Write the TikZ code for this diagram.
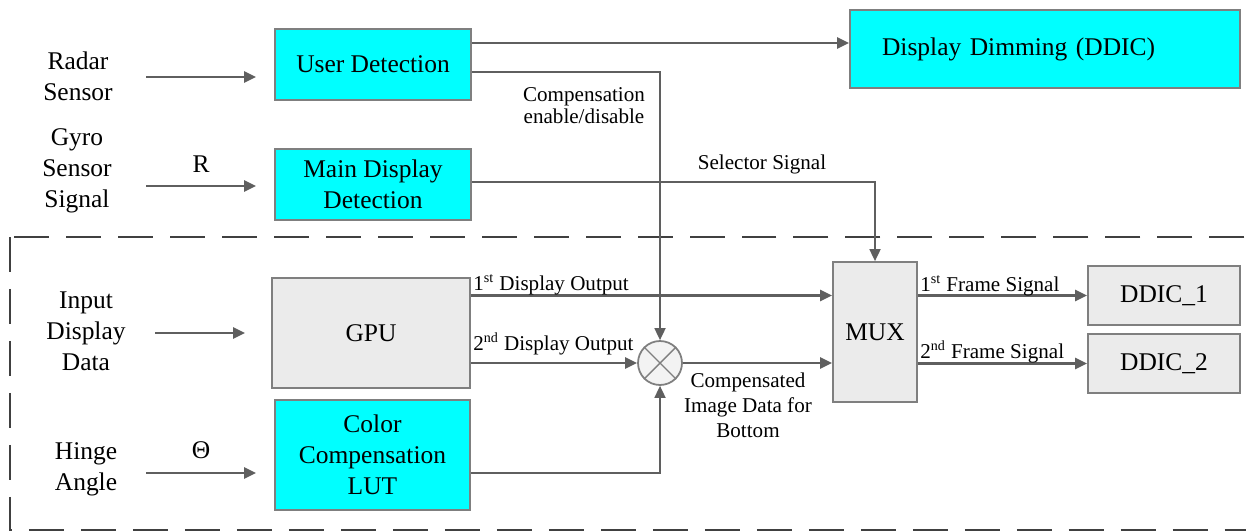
\documentclass[tikz,border=0pt]{standalone}
\usepackage{fontspec}
\setmainfont{Liberation Serif}
\newfontfamily\diagfont{Liberation Serif}
\usepackage{tikz}
\usetikzlibrary{arrows.meta, positioning}
\definecolor{boxcyan}{HTML}{00FFFF}
\definecolor{boxgray}{HTML}{EBEBEB}
\definecolor{edgegray}{HTML}{7F7F7F}
\definecolor{wiregray}{HTML}{5F5F5F}
\tikzset{
		cyan block/.style={draw=edgegray, line width=1pt, fill=boxcyan, align=center, inner sep=0pt,
			font=\diagfont\fontsize{14.5}{17.6}\selectfont},
		gray block/.style={cyan block, fill=boxgray},
		in label/.style={align=center, inner sep=0pt, font=\diagfont\fontsize{14.5}{17.6}\selectfont},
		sig label/.style={align=center, inner sep=0pt, font=\diagfont\fontsize{12}{12.6}\selectfont},
		wire/.style={draw=wiregray, line width=1.5pt},
		thin wire/.style={draw=wiregray, line width=1pt}
	}

\begin{document}
\begin{tikzpicture}[x=0.02cm, y=-0.02cm, >={Triangle[length=0.24cm,width=0.22cm]}]
				\useasboundingbox (0,0) rectangle (1246,531);
				% dashed frame of the lower part
				\draw[dash pattern=on 0.7cm off 0.34cm, line width=1.1pt, draw=black!75] (10,237) rectangle (1270,530);

				% blocks
				\node[cyan block, minimum width=3.92cm, minimum height=1.42cm] (ud)  at (373,64.5)  {User Detection};
				\node[cyan block, minimum width=3.92cm, minimum height=1.42cm] (mdd) at (373,184.5) {Main Display\\Detection};
				\node[cyan block, minimum height=1.56cm, text width=6.52cm, inner xsep=0.64cm, align=left] (dd) at (1045,49) {Display Dimming (DDIC)};
				\node[gray block, minimum width=3.96cm, minimum height=2.2cm] (gpu) at (371,333) {GPU};
				\node[cyan block, minimum width=3.9cm, minimum height=2.2cm]  (lut) at (372.5,455) {Color\\Compensation\\LUT};
				\node[gray block, minimum width=1.68cm, minimum height=2.8cm] (mux) at (875,332) {MUX};
				\node[gray block, minimum width=3.04cm, minimum height=1.18cm] (dd1) at (1164,295.5) {DDIC\_1};
				\node[gray block, minimum width=3.04cm, minimum height=1.18cm] (dd2) at (1164,363.5) {DDIC\_2};
				\node[circle, draw=edgegray, line width=1pt, fill=boxgray!60, minimum size=0.88cm, inner sep=0pt] (mul) at (660,363) {};
				\draw[edgegray, line width=0.8pt] (mul.north east) -- (mul.south west) (mul.north west) -- (mul.south east);

				% inputs
				\node[in label] (radar) at (78,76)  {Radar\\Sensor};
				\node[in label] (gyro)  at (77,171) {Gyro\\Sensor\\Signal};
				\node[in label] (idd)   at (86,331) {Input\\Display\\Data};
				\node[in label] (hinge) at (86,469) {Hinge\\Angle};
				\coordinate (radar a) at (146,77);  \coordinate (radar b) at (256,77);
				\coordinate (gyro a)  at (146,186); \coordinate (gyro b)  at (256,186);
				\coordinate (idd a)   at (155,333); \coordinate (idd b)   at (245,333);
				\coordinate (hinge a) at (146,473); \coordinate (hinge b) at (256,473);
				\draw[wire, ->] (radar a) -- (radar b);
				\draw[wire, ->] (gyro a) -- node[in label, above=0.25cm] {R} (gyro b);
				\draw[wire, ->] (idd a) -- (idd b);
				\draw[wire, ->] (hinge a) -- node[in label, above=0.25cm] {Θ} (hinge b);

				% connections
				\draw[wire, ->] (ud.east |- 0,43) -- (dd.west |- 0,43);
				\draw[thin wire, ->] (ud.east |- 0,72) -| (mul.north);
				\draw[thin wire, ->] (mdd.east |- 0,182) -| (mux.north);
				\draw[wire, ->] (gpu.east |- dd1) -- (mux.west |- dd1);
				\draw[wire, ->] (gpu.east |- mul) -- (mul.west);
				\draw[thin wire, ->] (lut.east |- 0,473) -| (mul.south);
				\draw[wire, ->] (mul.east) -- (mux.west |- mul);
				\draw[wire, ->] (mux.east |- dd1) -- (dd1.west);
				\draw[wire, ->] (mux.east |- dd2) -- (dd2.west);

				% labels
				\node[sig label] (comp)  at (584,106) {Compensation\\enable/disable};
				\node[sig label] (sel)   at (762,164) {Selector Signal};
				\node[sig label, font=\diagfont\fontsize{12}{14.2}\selectfont] (cimg) at (748,405) {Compensated\\Image Data for\\Bottom};
				\node[sig label, anchor=base west] (out1) at (473,290) {1\textsuperscript{st} Display Output};
				\node[sig label, anchor=base west] (out2) at (473,350) {2\textsuperscript{nd} Display Output};
				\node[sig label, anchor=base west] (fr1)  at (920,291) {1\textsuperscript{st} Frame Signal};
				\node[sig label, anchor=base west] (fr2)  at (920,358) {2\textsuperscript{nd} Frame Signal};
			\end{tikzpicture}
\end{document}
